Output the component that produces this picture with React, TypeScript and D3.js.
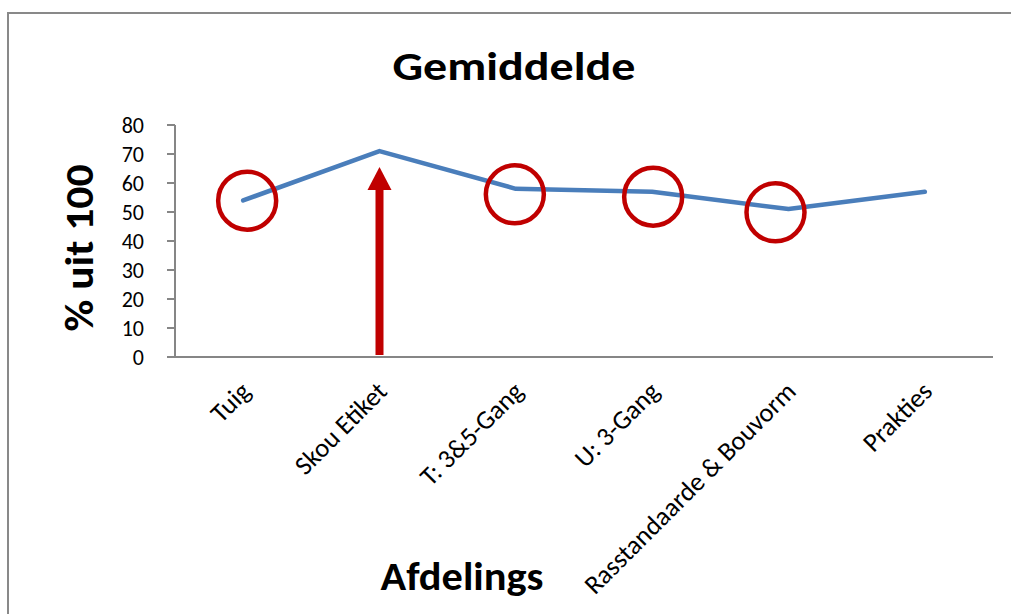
import * as React from 'react';
import {scaleBand, scaleLinear, line} from "d3";

const categories = ["Tuig", "Skou Etiket", "T: 3&5-Gang", "U: 3-Gang", "Rasstandaarde & Bouvorm", "Prakties"];
const values = [54, 71, 58, 57, 51, 57];
const yTicks = [0, 10, 20, 30, 40, 50, 60, 70, 80];

// red circles drawn around some of the points (category, value at circle centre, x shift in px)
const circleCats = ["Tuig", "T: 3&5-Gang", "U: 3-Gang", "Rasstandaarde & Bouvorm"];
const circleValues = [53.9, 56.1, 55.3, 49.9];
const circleShift = [4, -1, 1, -13];
const arrowCat = "Skou Etiket";
const arrowTop = 65.5;

const width = 1011;
const height = 614;
const left = 175;
const right = 993;
const top = 125;
const bottom = 357;

const font = "Carlito, Calibri, 'Open Sans', sans-serif";
const red = "#C00000";

const xScale = scaleBand<string>()
    .domain(categories)
    .range([left, right]);

const yScale = scaleLinear()
    .domain([0, 80])
    .range([bottom, top]);

const cx = (c: string) => (xScale(c) || 0) + xScale.bandwidth() / 2;

const path = line<number>()
    .x((d, i) => cx(categories[i]))
    .y(d => yScale(d));

export default function App() {
    const ax = cx(arrowCat);
    const tipY = yScale(arrowTop);
    return (
        <div style={{position: "absolute", left: 0, top: 0}}>
            <svg width={width} height={height} style={{display: "block", fontFamily: font}}>
                <rect x={0} y={0} width={width} height={height} fill="#fff"/>
                <path d={`M8,${height + 5}V13H${width + 5}`} fill="none" stroke="#898989" strokeWidth={2}/>

                <text x={514} y={80} textAnchor="middle" fontSize={40} fontWeight="bold"
                      textLength={243} lengthAdjust="spacingAndGlyphs">Gemiddelde</text>

                <text transform="translate(93,248) rotate(-90)" textAnchor="middle" fontSize={40}
                      fontWeight="bold" textLength={167} lengthAdjust="spacingAndGlyphs">% uit 100</text>

                <text x={462} y={590} textAnchor="middle" fontSize={40} fontWeight="bold"
                      textLength={163} lengthAdjust="spacingAndGlyphs">Afdelings</text>

                <line x1={left} x2={left} y1={top} y2={bottom} stroke="#868686" strokeWidth={2}/>
                <line x1={left} x2={right} y1={bottom} y2={bottom} stroke="#868686" strokeWidth={2}/>
                {yTicks.map(t => (
                    <g key={t}>
                        <line x1={left - 8} x2={left} y1={yScale(t)} y2={yScale(t)} stroke="#868686" strokeWidth={2}/>
                        <text x={144} y={yScale(t) + 7.5} textAnchor="end" fontSize={22}>{t}</text>
                    </g>
                ))}

                {categories.map(c => (
                    <text key={c} transform={`translate(${cx(c) + 9},${bottom + 36}) rotate(-45)`}
                          textAnchor="end" fontSize={26.5}>{c}</text>
                ))}

                <path d={path(values) || ""} fill="none" stroke="#4A7EBB" strokeWidth={4.5}
                      strokeLinejoin="round" strokeLinecap="round"/>

                {circleCats.map((c, i) => (
                    <circle key={c} cx={cx(c) + circleShift[i]} cy={yScale(circleValues[i])} r={29}
                            fill="none" stroke={red} strokeWidth={4.5}/>
                ))}

                <rect x={ax - 4} y={tipY + 22} width={8} height={bottom - 2 - tipY - 22} fill={red}/>
                <path d={`M${ax},${tipY}L${ax + 12},${tipY + 23}L${ax - 12},${tipY + 23}Z`} fill={red}/>
            </svg>
        </div>
    );
}
